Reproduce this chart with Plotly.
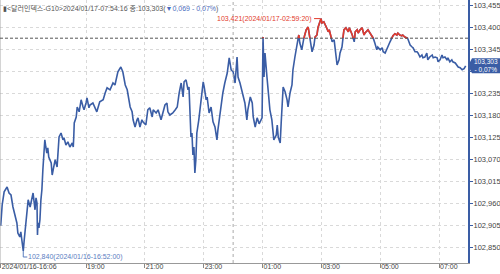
import plotly.graph_objects as go
import pandas as pd

# ---- data ----
times = [
    "16:06","16:09","16:13","16:19","16:23","16:27","16:31","16:35","16:39","16:41",
    "16:45","16:47","16:49","16:52","16:54","16:56","17:00","17:02","17:06","17:10",
    "17:12","17:16","17:18","17:20","17:21","17:22","17:24","17:26","17:28","17:30",
    "17:32","17:34","17:36","17:38","17:40","17:42","17:44","17:49","17:51","17:53",
    "17:57","18:01","18:03","18:05","18:09","18:13","18:15","18:19","18:23","18:27",
    "18:32","18:34","18:35","18:36","18:40","18:42","18:46","18:50","18:54","18:56",
    "19:00","19:02","19:06","19:08","19:14","19:18","19:22","19:28","19:35","19:39",
    "19:43","19:49","19:55","19:59","20:03","20:05","20:11","20:15","20:20","20:24",
    "20:30","20:34","20:36","20:40","20:44","20:46","20:50","20:54","20:56","21:02",
    "21:06","21:10","21:15","21:17","21:23","21:27","21:33","21:37","21:41","21:45",
    "21:47","21:51","21:57","22:02","22:06","22:10","22:14","22:18","22:20","22:24",
    "22:28","22:30","22:32","22:34","22:36","22:38","22:40","22:42","22:44","22:46",
    "22:50","22:55","22:59","23:01","23:05","23:07","23:11","23:15","23:19","23:23",
    "23:27","23:29","23:33","23:37","23:39","23:43","23:48","23:52","23:56","00:00",
    "00:04","00:08","00:10","00:14","00:20","00:24","00:28","00:30","00:35","00:39",
    "00:41","00:45","00:49","00:53","00:59","01:01","01:03","01:05","01:09","01:11",
    "01:15","01:19","01:21","01:23","01:28","01:30","01:32","01:36","01:38","01:40",
    "01:42","01:46","01:50","01:52","01:56","02:00","02:02","02:06","02:10","02:12",
    "02:14","02:16","02:20","02:22","02:25","02:29","02:33","02:35","02:39","02:41",
    "02:45","02:47","02:51","02:53","02:57","02:59:20","03:01","03:05","03:10","03:14",
    "03:16","03:20","03:22","03:26","03:28","03:30","03:32","03:36","03:38","03:42",
    "03:44","03:46","03:50","03:55","03:57","04:01","04:03","04:07","04:09","04:13",
    "04:15","04:19","04:23","04:27","04:29","04:35","04:39","04:43","04:45","04:49",
    "04:53","04:55","05:00","05:04","05:06","05:10","05:14","05:16","05:20","05:24",
    "05:26","05:30","05:34","05:36","05:40","05:44","05:46","05:50","05:55","05:57",
    "06:01","06:05","06:07","06:11","06:15","06:17","06:21","06:25","06:27","06:31",
    "06:35","06:37","06:41","06:46","06:48","06:52","06:56","06:58","07:02","07:06",
    "07:08","07:12","07:16","07:18","07:22","07:26","07:28","07:33","07:37","07:39",
    "07:43","07:47","07:51","07:54:16",
]
prices = [
    102.903,102.955,102.988,103.000,102.985,102.980,102.950,102.930,102.910,102.885,
    102.875,102.888,102.863,102.840,102.868,102.893,102.943,102.968,102.950,102.975,
    102.985,102.943,102.973,102.960,102.880,102.910,102.898,102.918,102.968,102.993,
    103.043,103.085,103.118,103.100,103.085,103.098,103.075,103.060,103.030,103.043,
    103.068,103.050,103.093,103.125,103.135,103.118,103.123,103.105,103.113,103.100,
    103.110,103.100,103.125,103.160,103.175,103.200,103.188,103.218,103.200,103.193,
    103.210,103.223,103.198,103.205,103.210,103.198,103.188,103.213,103.218,103.235,
    103.248,103.243,103.260,103.255,103.273,103.288,103.300,103.288,103.255,103.243,
    103.200,103.188,103.168,103.150,103.168,103.173,103.150,103.168,103.163,103.155,
    103.193,103.198,103.175,103.193,103.185,103.193,103.168,103.185,103.205,103.210,
    103.188,103.180,103.185,103.193,103.200,103.235,103.260,103.225,103.263,103.268,
    103.243,103.250,103.175,103.125,103.135,103.080,103.100,103.035,103.068,103.135,
    103.168,103.218,103.263,103.250,103.218,103.225,103.185,103.200,103.163,103.150,
    103.118,103.143,103.185,103.218,103.235,103.260,103.285,103.323,103.293,103.288,
    103.260,103.325,103.275,103.260,103.225,103.210,103.168,103.193,103.225,103.210,
    103.175,103.150,103.173,103.158,103.173,103.375,103.275,103.335,103.275,103.250,
    103.193,103.168,103.143,103.118,103.130,103.155,103.125,103.110,103.160,103.210,
    103.250,103.238,103.218,103.200,103.235,103.255,103.293,103.325,103.360,103.368,
    103.380,103.360,103.343,103.363,103.375,103.393,103.400,103.385,103.350,103.338,
    103.355,103.375,103.380,103.398,103.413,103.421,103.410,103.413,103.400,103.388,
    103.393,103.375,103.363,103.368,103.350,103.325,103.305,103.318,103.335,103.350,
    103.375,103.393,103.398,103.388,103.398,103.388,103.380,103.363,103.388,103.393,
    103.385,103.393,103.398,103.380,103.385,103.393,103.385,103.380,103.375,103.360,
    103.343,103.350,103.343,103.348,103.338,103.335,103.348,103.350,103.363,103.373,
    103.378,103.383,103.380,103.385,103.380,103.378,103.380,103.375,103.374,103.368,
    103.355,103.350,103.348,103.338,103.338,103.335,103.325,103.330,103.323,103.325,
    103.335,103.318,103.325,103.330,103.323,103.325,103.323,103.313,103.318,103.330,
    103.323,103.325,103.318,103.323,103.313,103.318,103.313,103.310,103.305,103.300,
    103.298,103.293,103.296,103.303,
]
prev_close = 103.372
last_price = 103.303
change = -0.069
change_pct = -0.07
max_time, max_price = "2024-01-17 02:59:20", 103.421
min_time, min_price = "2024-01-16 16:52:00", 102.840

y_ticks = [102.850, 102.905, 102.960, 103.015, 103.070, 103.125, 103.180,
           103.235, 103.290, 103.345, 103.400, 103.455]
x_tick_times = ["2024-01-16 16:06", "2024-01-16 19:00", "2024-01-16 21:00",
                "2024-01-16 23:00", "2024-01-17 01:00", "2024-01-17 03:00",
                "2024-01-17 05:00", "2024-01-17 07:00"]
x_tick_text = ["2024/01/16-16:06", "19:00", "21:00", "23:00", "01:00",
               "03:00", "05:00", "07:00"]

# ---- build timestamps (day rolls over after midnight) ----
ts = []
day = 16
prev_h = None
for s in times:
    h = int(s.split(":")[0])
    if prev_h is not None and h < prev_h:
        day += 1
    prev_h = h
    full = s if s.count(":") == 2 else s + ":00"
    ts.append(pd.Timestamp(f"2024-01-{day} {full}"))

# densify with crossing points of the previous-close line
dx, dy = [ts[0]], [prices[0]]
for i in range(1, len(ts)):
    v0, v1 = prices[i - 1], prices[i]
    if (v0 - prev_close) * (v1 - prev_close) < 0:
        f = (prev_close - v0) / (v1 - v0)
        tc = ts[i - 1] + (ts[i] - ts[i - 1]) * f
        dx.append(tc)
        dy.append(prev_close)
    dx.append(ts[i])
    dy.append(prices[i])
red_y = [v if v >= prev_close else None for v in dy]

BLUE = "#3a5da5"
RED = "#e23a2c"
FONT = "Liberation Sans, Arial, Noto Sans CJK KR, sans-serif"

fig = go.Figure()
fig.add_trace(go.Scatter(x=dx, y=dy, mode="lines",
                         line=dict(color=BLUE, width=1.6), hoverinfo="skip"))
fig.add_trace(go.Scatter(x=dx, y=red_y, mode="lines", connectgaps=False,
                         line=dict(color=RED, width=1.6), hoverinfo="skip"))

def fmt(v, nd=3):
    return f"{v:.{nd}f}".replace(".", ",")

y_text = [("" if abs(v - 103.290) < 1e-9 else fmt(v)) for v in y_ticks]

fig.update_layout(
    width=500, height=274,
    margin=dict(l=0, r=32, t=0, b=11),
    plot_bgcolor="white", paper_bgcolor="white",
    showlegend=False,
    xaxis=dict(
        type="date",
        range=["2024-01-16 16:04:34", "2024-01-17 07:59:00"],
        tickvals=x_tick_times, ticktext=x_tick_text,
        ticks="outside", ticklen=4, tickcolor="#888",
        ticklabelposition="outside right", ticklabelstandoff=-3,
        ticklabeloverflow="allow",
        tickfont=dict(size=7, color="#444", family=FONT),
        showgrid=True, gridcolor="#d9d9d9", griddash="dot", gridwidth=1,
        showline=True, linecolor="#999", linewidth=1,
        zeroline=False, automargin=False,
    ),
    yaxis=dict(
        side="right",
        range=[102.81, 103.4675],
        tickvals=y_ticks, ticktext=y_text,
        ticks="outside", ticklen=3, tickcolor=BLUE,
        ticklabelstandoff=-1, ticklabeloverflow="allow",
        tickfont=dict(size=7.5, color="#444", family=FONT),
        showgrid=True, gridcolor="#d9d9d9", griddash="dot", gridwidth=1,
        showline=True, linecolor=BLUE, linewidth=2,
        zeroline=False, automargin=False,
    ),
)

# left border
fig.add_shape(type="line", xref="paper", yref="paper", x0=0, x1=0, y0=0, y1=1,
              line=dict(color="#aaa", width=1))
# midnight separator
fig.add_shape(type="line", xref="x", yref="paper", x0="2024-01-17 00:00",
              x1="2024-01-17 00:00", y0=0, y1=1,
              line=dict(color="#aaa", width=1, dash="dot"))
# previous close dashed line
fig.add_shape(type="line", xref="paper", yref="y", x0=0, x1=1,
              y0=prev_close, y1=prev_close,
              line=dict(color="#555", width=1, dash="3px,2px"))

# header
hdr = (f"▮<달러인덱스-G10>2024/01/17-07:54:16 종:{fmt(last_price)}("
       f"<span style='color:#4a6cc0'>▼{fmt(abs(change))} - {fmt(abs(change_pct), 2)}%</span>)")
fig.add_annotation(text=hdr, xref="paper", yref="paper", x=0, y=1,
                   xanchor="left", yanchor="top", yshift=-2, xshift=1,
                   showarrow=False, font=dict(size=7, color="#555", family=FONT))

# max label
fig.add_annotation(text=f"{fmt(max_price)}({max_time[:10].replace('-', '/')}-{max_time[11:]})",
                   x=max_time, y=max_price, xanchor="right", yanchor="middle",
                   xshift=-7, showarrow=False,
                   font=dict(size=7, color=RED, family=FONT))
fig.add_shape(type="line", xref="x", yref="y", xsizemode="pixel", xanchor=max_time,
              x0=-7, x1=-1, y0=max_price, y1=max_price,
              line=dict(color=RED, width=1))

# min label
fig.add_annotation(text=f"{fmt(min_price)}({min_time[:10].replace('-', '/')}-{min_time[11:]})",
                   x=min_time, y=min_price, xanchor="left", yanchor="middle",
                   xshift=3, yshift=-6, showarrow=False,
                   font=dict(size=7, color="#5b7dbf", family=FONT))
fig.add_shape(type="line", xref="x", yref="y", ysizemode="pixel", yanchor=min_price,
              x0=min_time, x1=min_time, y0=0, y1=-6,
              line=dict(color="#5b7dbf", width=1))
fig.add_shape(type="line", xref="x", yref="y", xsizemode="pixel", ysizemode="pixel",
              xanchor=min_time, yanchor=min_price,
              x0=0, x1=4, y0=-6, y1=-6,
              line=dict(color="#5b7dbf", width=1))

# last price box on the right axis
w = 468.0
fig.add_shape(type="path", xref="paper", yref="y", ysizemode="pixel", yanchor=last_price,
              path=(f"M 1,0 L {1 + 4 / w},7.5 L {1 + 32 / w},7.5 "
                    f"L {1 + 32 / w},-7.5 L {1 + 4 / w},-7.5 Z"),
              fillcolor=BLUE, line=dict(color=BLUE, width=0), layer="above")
fig.add_annotation(text=f"{fmt(last_price)}<br>- {fmt(abs(change_pct), 2)}%",
                   xref="paper", yref="y", x=1 + 18 / w, y=last_price,
                   xanchor="center", yanchor="middle", showarrow=False,
                   font=dict(size=6.5, color="white", family=FONT))

fig.write_html("out.html")
